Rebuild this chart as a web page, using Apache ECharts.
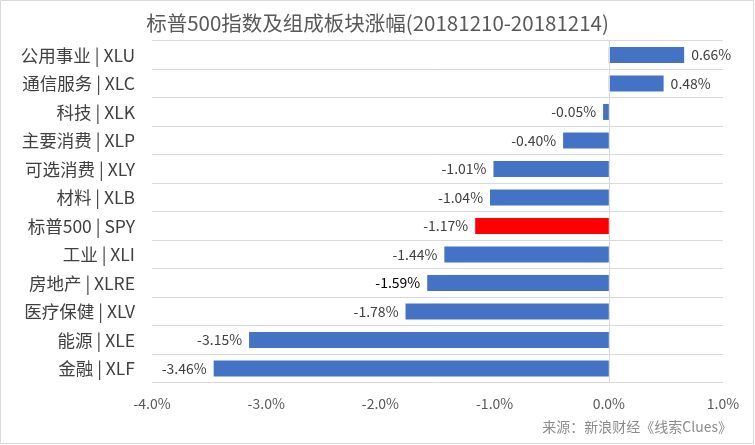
<!DOCTYPE html>
<html>
<head>
<meta charset="utf-8">
<script src="https://cdn.jsdelivr.net/npm/echarts@6/dist/echarts.min.js"></script>
<style>
  html, body { margin: 0; padding: 0; background: #fff; }
  #barMyCharts { width: 755px; height: 445px; }
</style>
</head>
<body>
<div id="barMyCharts"></div>
<script>
// 板块名称（自上而下）
const categories = [
  "公用事业 | XLU", "通信服务 | XLC", "科技 | XLK", "主要消费 | XLP",
  "可选消费 | XLY", "材料 | XLB", "标普500 | SPY", "工业 | XLI",
  "房地产 | XLRE", "医疗保健 | XLV", "能源 | XLE", "金融 | XLF"
];
// 涨幅 %
const values = [0.66, 0.48, -0.05, -0.40, -1.01, -1.04, -1.17, -1.44, -1.59, -1.78, -3.15, -3.46];
const xTicks = [-4, -3, -2, -1, 0, 1];

const font = "'Noto Sans CJK SC', 'Noto Sans', sans-serif";

let myChart = echarts.init(document.getElementById("barMyCharts"));

const seriesData = values.map(function (v, i) {
  let isIndex = categories[i].indexOf("SPY") >= 0;
  return {
    value: v,
    itemStyle: { color: isIndex ? "#FF0000" : "#4472C4" },
    label: {
      position: v >= 0 ? "right" : "left",
      // -1.59% 在原图里是黑色
      color: categories[i].indexOf("XLRE") >= 0 ? "#000000" : "#404040",
    },
  };
});

let option = {
  animation: false,
  title: {
    text: "标普500指数及组成板块涨幅(20181210-20181214)",
    left: "center",
    top: 8,
    textStyle: {
      fontFamily: font,
      fontSize: 20.5,
      fontWeight: "normal",
      color: "#595959",
    },
  },
  grid: {
    left: 152,
    right: 32,
    top: 40.7,
    bottom: 62.3,
  },
  xAxis: {
    type: "value",
    min: xTicks[0],
    max: xTicks[xTicks.length - 1],
    interval: 1,
    axisLine: { show: false },
    axisTick: { show: false },
    splitLine: { show: false },
    axisLabel: {
      margin: 14,
      fontFamily: font,
      fontSize: 14,
      color: "#595959",
      formatter: function (v) {
        return v.toFixed(1) + "%";
      },
    },
  },
  yAxis: {
    type: "category",
    inverse: true,
    data: categories,
    axisLine: { show: false },
    axisTick: { show: false },
    splitLine: { show: true, lineStyle: { color: "#D9D9D9", width: 1 } },
    axisLabel: {
      margin: 17,
      fontFamily: font,
      fontSize: 17.5,
      color: "#404040",
    },
  },
  series: [
    {
      name: "涨幅",
      type: "bar",
      barWidth: 16,
      data: seriesData,
      label: {
        show: true,
        distance: 7,
        fontFamily: font,
        fontSize: 14,
        formatter: function (p) {
          return p.value.toFixed(2) + "%";
        },
      },
      markLine: {
        silent: true,
        symbol: "none",
        label: { show: false },
        lineStyle: { color: "#D9D9D9", type: "solid", width: 1 },
        data: [{ xAxis: 0 }],
      },
    },
  ],
  graphic: [
    {
      type: "rect",
      shape: { x: 0.5, y: 0.5, width: 753, height: 443 },
      style: { fill: "none", stroke: "#D9D9D9", lineWidth: 1 },
      silent: true,
    },
    {
      type: "text",
      right: 23,
      top: 420,
      style: {
        text: "来源：新浪财经《线索Clues》",
        font: "14px " + font,
        fill: "#8C8C8C",
      },
    },
  ],
};

myChart.setOption(option);
</script>
</body>
</html>
